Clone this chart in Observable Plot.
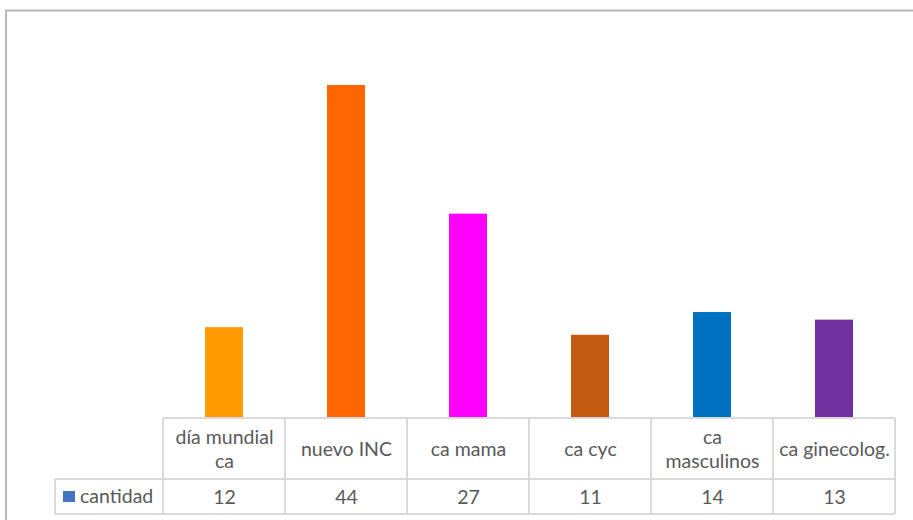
<!DOCTYPE html>
<html><head><meta charset="utf-8">
<script src="https://cdn.jsdelivr.net/npm/d3@7"></script>
<script src="https://cdn.jsdelivr.net/npm/@observablehq/plot@0.6"></script>
<style>
html,body{margin:0;padding:0;background:#fff;overflow:hidden}
svg{display:block}
</style></head><body>
<div id="wrap"></div>
<script>
const categories = ["día mundial\nca","nuevo INC","ca mama","ca cyc","ca\nmasculinos","ca ginecolog."];
const values = [12,44,27,11,14,13];
const colors = ["#FF9900","#FF6600","#FF00FF","#C55A11","#0070C0","#7030A0"];
const seriesName = "cantidad";
const legendColor = "#4472C4";
const data = categories.map((c,i)=>({cat:c, value:values[i], color:colors[i]}));
const oneLine = data.filter(d => !d.cat.includes("\n"));
const twoLine = data.filter(d => d.cat.includes("\n"));

const txt = {fill:"#595959", fontSize:19.5, fontFamily:"Lato", lineHeight:1.23};
const plot = Plot.plot({
  width:913, height:520,
  marginLeft:161.5, marginRight:17, marginTop:39.6, marginBottom:102,
  style:{fontFamily:"Lato", fontSize:"19.5px", color:"#595959", background:"#fff"},
  x:{domain:categories, paddingInner:0.685, paddingOuter:0.3425, axis:null},
  y:{domain:[0,50], axis:null},
  color:{type:"identity"},
  marks:[
    Plot.barY(data,{x:"cat", y:"value", fill:"color"}),
    Plot.text(oneLine,{x:"cat", text:"cat", frameAnchor:"bottom", dy:37, ...txt}),
    Plot.text(twoLine,{x:"cat", text:"cat", frameAnchor:"bottom", dy:49.5, ...txt}),
    Plot.text(data,{x:"cat", text:d=>String(d.value), frameAnchor:"bottom", dy:85.5, ...txt})
  ]
});
document.getElementById("wrap").appendChild(plot);

const svg = d3.select(plot);
// chart area outline (top and left edges visible)
svg.append("path").attr("d","M6,520V10.5H913").attr("fill","none").attr("stroke","#b8b8b8").attr("stroke-width",2);

// data table grid drawn from the plot's own x scale
const xs = plot.scale("x");
const step = xs.step, bw = xs.bandwidth;
const bounds = categories.map(c => xs.apply(c) - (step - bw)/2);
bounds.push(bounds[bounds.length-1] + step);
const g = svg.append("g").attr("stroke","#d9d9d9").attr("stroke-width",2).attr("fill","none");
const yTop = 418, yMid = 479, yBot = 514, legLeft = 55;
const xEnd = bounds[bounds.length-1];
g.append("line").attr("x1",bounds[0]).attr("x2",xEnd).attr("y1",yTop).attr("y2",yTop);
g.append("line").attr("x1",legLeft).attr("x2",xEnd).attr("y1",yMid).attr("y2",yMid);
g.append("line").attr("x1",legLeft).attr("x2",xEnd).attr("y1",yBot).attr("y2",yBot);
g.append("line").attr("x1",legLeft).attr("x2",legLeft).attr("y1",yMid).attr("y2",yBot);
bounds.forEach(b => g.append("line").attr("x1",b).attr("x2",b).attr("y1",yTop).attr("y2",yBot));
// legend key in the table
svg.append("rect").attr("x",63).attr("y",491).attr("width",12).attr("height",11).attr("fill",legendColor);
svg.append("text").attr("x",80).attr("y",503).attr("text-anchor","start")
  .attr("font-family","Lato").attr("font-size",19.5).attr("fill","#595959").text(seriesName);
</script>
</body></html>
